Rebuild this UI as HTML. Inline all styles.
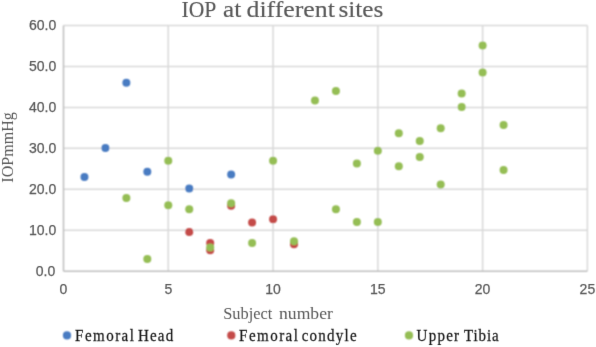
<!DOCTYPE html><html><head><meta charset="utf-8"><style>html,body{margin:0;padding:0;background:#fff;}svg{display:block;will-change:transform}</style></head><body>
<svg width="596" height="347" viewBox="0 0 596 347">
<defs><filter id="bs" filterUnits="userSpaceOnUse" x="0" y="0" width="596" height="347"><feConvolveMatrix order="3" kernelMatrix="1 2 1 2 4 2 1 2 1" edgeMode="none"/></filter><filter id="bt" filterUnits="userSpaceOnUse" x="0" y="0" width="596" height="347"><feConvolveMatrix order="3" kernelMatrix="0 1 0 1 12 1 0 1 0" edgeMode="none"/></filter></defs>
<rect width="596" height="347" fill="#fff"/>
<g filter="url(#bs)">
<g stroke="#d9d9d9" stroke-width="1.5"><line x1="63.50" y1="230.25" x2="587.40" y2="230.25"/><line x1="63.50" y1="189.30" x2="587.40" y2="189.30"/><line x1="63.50" y1="148.35" x2="587.40" y2="148.35"/><line x1="63.50" y1="107.40" x2="587.40" y2="107.40"/><line x1="63.50" y1="66.45" x2="587.40" y2="66.45"/><line x1="63.50" y1="25.50" x2="587.40" y2="25.50"/><line x1="168.28" y1="25.50" x2="168.28" y2="271.20"/><line x1="273.06" y1="25.50" x2="273.06" y2="271.20"/><line x1="377.84" y1="25.50" x2="377.84" y2="271.20"/><line x1="482.62" y1="25.50" x2="482.62" y2="271.20"/><line x1="587.40" y1="25.50" x2="587.40" y2="271.20"/></g>
<g stroke="#bfbfbf" stroke-width="1.5"><line x1="63.50" y1="25.50" x2="63.50" y2="271.20"/><line x1="63.50" y1="271.20" x2="587.40" y2="271.20"/></g>
<g fill="#4A7CC2"><circle cx="84.46" cy="177.01" r="4.0"/><circle cx="105.41" cy="147.94" r="4.0"/><circle cx="126.37" cy="82.83" r="4.0"/><circle cx="147.32" cy="171.69" r="4.0"/><circle cx="189.24" cy="188.48" r="4.0"/><circle cx="231.15" cy="174.56" r="4.0"/></g>
<g fill="#C44B48"><circle cx="189.24" cy="231.89" r="4.0"/><circle cx="210.19" cy="242.94" r="4.0"/><circle cx="210.19" cy="250.32" r="4.0"/><circle cx="231.15" cy="205.68" r="4.0"/><circle cx="252.10" cy="222.47" r="4.0"/><circle cx="273.06" cy="219.19" r="4.0"/><circle cx="294.02" cy="244.17" r="4.0"/></g>
<g fill="#95BE55"><circle cx="126.37" cy="197.90" r="4.0"/><circle cx="147.32" cy="258.91" r="4.0"/><circle cx="168.28" cy="160.63" r="4.0"/><circle cx="168.28" cy="205.27" r="4.0"/><circle cx="189.24" cy="209.37" r="4.0"/><circle cx="210.19" cy="247.45" r="4.0"/><circle cx="231.15" cy="203.22" r="4.0"/><circle cx="252.10" cy="242.94" r="4.0"/><circle cx="273.06" cy="160.63" r="4.0"/><circle cx="294.02" cy="241.31" r="4.0"/><circle cx="314.97" cy="100.44" r="4.0"/><circle cx="335.93" cy="91.02" r="4.0"/><circle cx="335.93" cy="209.37" r="4.0"/><circle cx="356.88" cy="163.50" r="4.0"/><circle cx="356.88" cy="222.06" r="4.0"/><circle cx="377.84" cy="150.81" r="4.0"/><circle cx="377.84" cy="222.06" r="4.0"/><circle cx="398.80" cy="133.20" r="4.0"/><circle cx="398.80" cy="166.37" r="4.0"/><circle cx="419.75" cy="140.98" r="4.0"/><circle cx="419.75" cy="156.95" r="4.0"/><circle cx="440.71" cy="128.28" r="4.0"/><circle cx="440.71" cy="184.39" r="4.0"/><circle cx="461.66" cy="93.48" r="4.0"/><circle cx="461.66" cy="106.99" r="4.0"/><circle cx="482.62" cy="45.57" r="4.0"/><circle cx="482.62" cy="72.59" r="4.0"/><circle cx="503.58" cy="125.01" r="4.0"/><circle cx="503.58" cy="170.05" r="4.0"/></g>
<circle cx="67.0" cy="335.4" r="4.1" fill="#4A7CC2"/>
<circle cx="231.3" cy="335.4" r="4.1" fill="#C44B48"/>
<circle cx="409.0" cy="335.4" r="4.1" fill="#95BE55"/>
</g>
<g filter="url(#bt)">
<g font-family="&quot;Liberation Sans&quot;, sans-serif" font-size="14" fill="#595959" stroke="#595959" stroke-width="0.25"><text x="55.3" y="275.80" text-anchor="end">0.0</text><text x="56.2" y="234.85" text-anchor="end">10.0</text><text x="56.2" y="193.90" text-anchor="end">20.0</text><text x="56.2" y="152.95" text-anchor="end">30.0</text><text x="56.2" y="112.00" text-anchor="end">40.0</text><text x="56.2" y="71.05" text-anchor="end">50.0</text><text x="56.2" y="30.10" text-anchor="end">60.0</text><text x="63.50" y="294.1" text-anchor="middle">0</text><text x="168.28" y="294.1" text-anchor="middle">5</text><text x="273.06" y="294.1" text-anchor="middle">10</text><text x="377.84" y="294.1" text-anchor="middle">15</text><text x="482.62" y="294.1" text-anchor="middle">20</text><text x="587.40" y="294.1" text-anchor="middle">25</text></g>
<text id="t1" x="181.52" y="17.20" font-family="&quot;Liberation Serif&quot;, serif" font-size="24.0" fill="#595959" textLength="34.82" lengthAdjust="spacingAndGlyphs" stroke="#595959" stroke-width="0.15">IOP</text>
<text id="t2" x="223.12" y="17.20" font-family="&quot;Liberation Serif&quot;, serif" font-size="24.0" fill="#595959" textLength="18.13" lengthAdjust="spacingAndGlyphs" stroke="#595959" stroke-width="0.15">at</text>
<text id="t3" x="246.59" y="17.20" font-family="&quot;Liberation Serif&quot;, serif" font-size="24.0" fill="#595959" textLength="88.26" lengthAdjust="spacingAndGlyphs" stroke="#595959" stroke-width="0.15">different</text>
<text id="t4" x="338.43" y="17.20" font-family="&quot;Liberation Serif&quot;, serif" font-size="24.0" fill="#595959" textLength="44.91" lengthAdjust="spacingAndGlyphs" stroke="#595959" stroke-width="0.15">sites</text>
<text id="x1" x="223.16" y="318.80" font-family="&quot;Liberation Serif&quot;, serif" font-size="16.5" fill="#595959" textLength="49.12" lengthAdjust="spacingAndGlyphs" >Subject</text>
<text id="x2" x="279.05" y="318.80" font-family="&quot;Liberation Serif&quot;, serif" font-size="16.5" fill="#595959" textLength="53.81" lengthAdjust="spacingAndGlyphs" >number</text>
<text id="l1" transform="translate(75.08,341.00) scale(0.95,1)" font-family="&quot;Liberation Serif&quot;, serif" font-size="15.8" fill="#1a1a1a" textLength="61.95" lengthAdjust="spacing" stroke="#1a1a1a" stroke-width="0.25">Femoral</text>
<text id="l2" transform="translate(137.95,341.00) scale(0.95,1)" font-family="&quot;Liberation Serif&quot;, serif" font-size="15.8" fill="#1a1a1a" textLength="37.11" lengthAdjust="spacing" stroke="#1a1a1a" stroke-width="0.25">Head</text>
<text id="l3" transform="translate(239.08,341.00) scale(0.95,1)" font-family="&quot;Liberation Serif&quot;, serif" font-size="15.8" fill="#1a1a1a" textLength="61.95" lengthAdjust="spacing" stroke="#1a1a1a" stroke-width="0.25">Femoral</text>
<text id="l4" transform="translate(301.66,341.00) scale(0.95,1)" font-family="&quot;Liberation Serif&quot;, serif" font-size="15.8" fill="#1a1a1a" textLength="57.94" lengthAdjust="spacing" stroke="#1a1a1a" stroke-width="0.25">condyle</text>
<text id="l5" transform="translate(416.62,341.00) scale(0.95,1)" font-family="&quot;Liberation Serif&quot;, serif" font-size="15.8" fill="#1a1a1a" textLength="44.69" lengthAdjust="spacing" stroke="#1a1a1a" stroke-width="0.25">Upper</text>
<text id="l6" transform="translate(463.94,341.00) scale(0.95,1)" font-family="&quot;Liberation Serif&quot;, serif" font-size="15.8" fill="#1a1a1a" textLength="36.66" lengthAdjust="spacing" stroke="#1a1a1a" stroke-width="0.25">Tibia</text>
<text id="y1" transform="translate(13.40,182.63) rotate(-90)" font-family="&quot;Liberation Serif&quot;, serif" font-size="16.5" fill="#595959" textLength="70.47" lengthAdjust="spacingAndGlyphs" >IOPmmHg</text>
</g>
</svg></body></html>
